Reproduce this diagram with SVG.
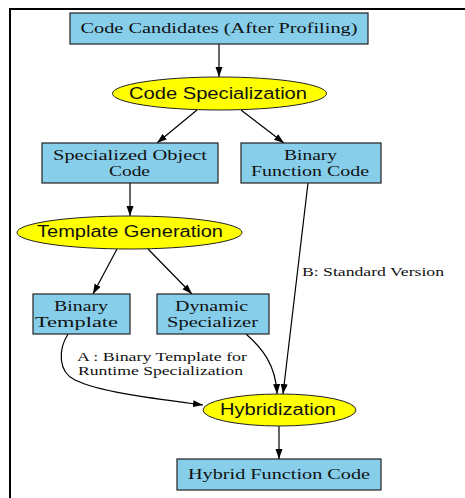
<svg xmlns="http://www.w3.org/2000/svg" width="465" height="498" viewBox="0 0 465 498">
<defs>
<style>
.box{fill:#87ceeb;stroke:#222;stroke-width:1.2}
.ell{fill:#ffff00;stroke:#222;stroke-width:1}
.st{font-family:"Liberation Serif","Times New Roman",serif;font-size:15px;fill:#111;text-anchor:middle}
.ss{font-family:"Liberation Sans",Arial,sans-serif;font-size:16px;fill:#111;text-anchor:middle}
.lb{font-family:"Liberation Serif","Times New Roman",serif;font-size:13px;fill:#111}
.edge{fill:none;stroke:#000;stroke-width:1.2}
</style>
<marker id="ah" markerUnits="userSpaceOnUse" markerWidth="11" markerHeight="8" refX="10" refY="3.5" orient="auto">
<path d="M0,0 L10,3.5 L0,7 z" fill="#000"/>
</marker>
</defs>
<rect width="465" height="498" fill="#fff"/>
<path d="M10,498 V9 H465" fill="none" stroke="#000" stroke-width="2"/>
<g id="connectors">
<path class="edge" d="M219,44 V77" marker-end="url(#ah)"/>
<path class="edge" d="M197,110 L157,143" marker-end="url(#ah)"/>
<path class="edge" d="M241,110 L284,143" marker-end="url(#ah)"/>
<path class="edge" d="M130,183 V216" marker-end="url(#ah)"/>
<path class="edge" d="M117,249 L93,294" marker-end="url(#ah)"/>
<path class="edge" d="M148,249 L192,294" marker-end="url(#ah)"/>
<path class="edge" d="M308,183 L283,394" marker-end="url(#ah)"/>
<path class="edge" d="M246,334 C262,348 276,365 277,394" marker-end="url(#ah)"/>
<path class="edge" d="M68,334 C58,350 58,372 75,380 C100,392 150,398 203,405" marker-end="url(#ah)"/>
<path class="edge" d="M279,426 V459" marker-end="url(#ah)"/>
<text class="lb" x="302" y="275.5" textLength="142" lengthAdjust="spacingAndGlyphs">B: Standard Version</text>
<text class="lb" x="77" y="361" textLength="170" lengthAdjust="spacingAndGlyphs">A : Binary Template for</text>
<text class="lb" x="78" y="375" textLength="165" lengthAdjust="spacingAndGlyphs">Runtime Specialization</text>
</g>
<g id="n1">
<rect class="box" x="70" y="13" width="298" height="31"/>
<text class="st" x="219" y="33" textLength="277" lengthAdjust="spacingAndGlyphs">Code Candidates (After Profiling)</text>
</g>
<g id="n2">
<ellipse class="ell" cx="219.5" cy="93.5" rx="107" ry="16.5"/>
<text class="ss" x="218" y="98.5" textLength="178" lengthAdjust="spacingAndGlyphs">Code Specialization</text>
</g>
<g id="n3">
<rect class="box" x="42" y="143" width="176" height="40"/>
<text class="st" x="130" y="160" textLength="154" lengthAdjust="spacingAndGlyphs">Specialized Object</text>
<text class="st" x="129.5" y="175.5" textLength="41" lengthAdjust="spacingAndGlyphs">Code</text>
</g>
<g id="n4">
<rect class="box" x="241" y="143" width="140" height="40"/>
<text class="st" x="310.5" y="160" textLength="53" lengthAdjust="spacingAndGlyphs">Binary</text>
<text class="st" x="310" y="175.5" textLength="118" lengthAdjust="spacingAndGlyphs">Function Code</text>
</g>
<g id="n5">
<ellipse class="ell" cx="129.5" cy="232.5" rx="112.5" ry="16.5"/>
<text class="ss" x="130" y="237" textLength="186" lengthAdjust="spacingAndGlyphs">Template Generation</text>
</g>
<g id="n6">
<rect class="box" x="33" y="294" width="97" height="40"/>
<text class="st" x="81" y="311" textLength="54" lengthAdjust="spacingAndGlyphs">Binary</text>
<text class="st" x="76.5" y="326.5" textLength="83" lengthAdjust="spacingAndGlyphs">Template</text>
</g>
<g id="n7">
<rect class="box" x="157" y="294" width="112" height="40"/>
<text class="st" x="211.5" y="311" textLength="73" lengthAdjust="spacingAndGlyphs">Dynamic</text>
<text class="st" x="212.5" y="326.5" textLength="91" lengthAdjust="spacingAndGlyphs">Specializer</text>
</g>
<g id="n8">
<ellipse class="ell" cx="279.5" cy="410" rx="76.5" ry="16"/>
<text class="ss" x="278" y="414.5" textLength="116" lengthAdjust="spacingAndGlyphs">Hybridization</text>
</g>
<g id="n9">
<rect class="box" x="177" y="459" width="204" height="31"/>
<text class="st" x="279" y="479" textLength="182" lengthAdjust="spacingAndGlyphs">Hybrid Function Code</text>
</g>
</svg>
